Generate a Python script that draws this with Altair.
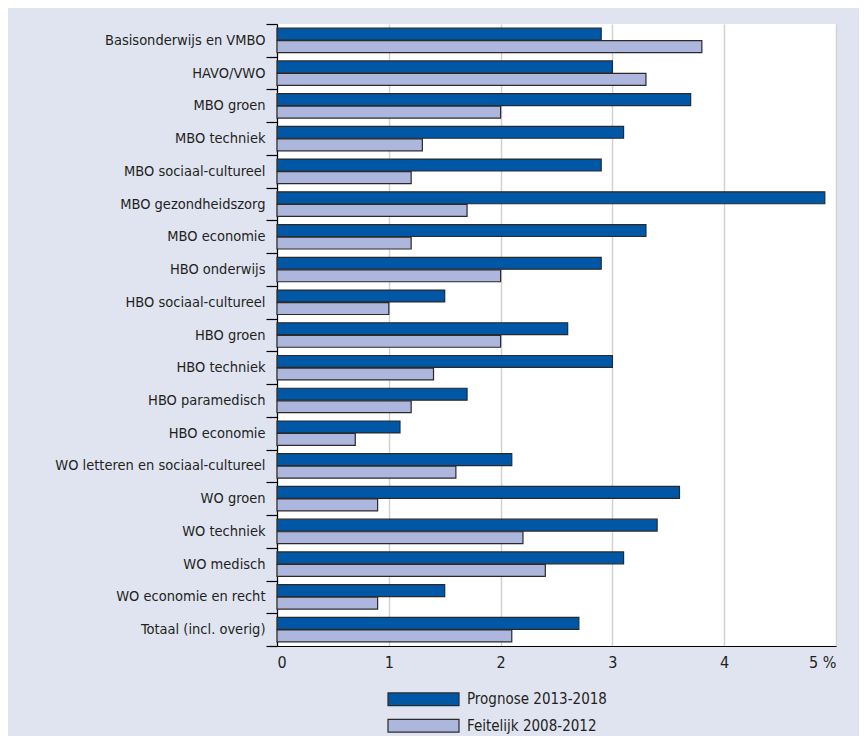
import altair as alt
import pandas as pd

categories = [
    "Basisonderwijs en VMBO", "HAVO/VWO", "MBO groen", "MBO techniek",
    "MBO sociaal-cultureel", "MBO gezondheidszorg", "MBO economie",
    "HBO onderwijs", "HBO sociaal-cultureel", "HBO groen", "HBO techniek",
    "HBO paramedisch", "HBO economie", "WO letteren en sociaal-cultureel",
    "WO groen", "WO techniek", "WO medisch", "WO economie en recht",
    "Totaal (incl. overig)",
]
series_names = ["Prognose 2013-2018", "Feitelijk 2008-2012"]
prognose = [2.9, 3.0, 3.7, 3.1, 2.9, 4.9, 3.3, 2.9, 1.5, 2.6, 3.0, 1.7, 1.1,
            2.1, 3.6, 3.4, 3.1, 1.5, 2.7]
feitelijk = [3.8, 3.3, 2.0, 1.3, 1.2, 1.7, 1.2, 2.0, 1.0, 2.0, 1.4, 1.2, 0.7,
             1.6, 0.9, 2.2, 2.4, 0.9, 2.1]
x_ticks = [0, 1, 2, 3, 4, 5]

rows = []
for c, p, f in zip(categories, prognose, feitelijk):
    rows.append({"category": c, "series": series_names[0], "value": p})
    rows.append({"category": c, "series": series_names[1], "value": f})
df = pd.DataFrame(rows)
legend_df = pd.DataFrame({"series": series_names, "row": [0, 1]})

FONT = "DejaVu Sans Condensed, sans-serif"
TXT = "#231f20"
color_scale = alt.Scale(domain=series_names, range=["#0057a6", "#adb7dd"])

bars = alt.Chart(df).mark_bar(stroke="#2a2a2a", strokeWidth=1.2).encode(
    y=alt.Y("category:N", sort=categories,
            scale=alt.Scale(paddingInner=0, paddingOuter=0),
            axis=alt.Axis(title=None, tickBand="extent", tickSize=11,
                          tickColor="#000", tickWidth=1.2,
                          domainColor="#000", domainWidth=1.2,
                          labelPadding=1, labelFont=FONT, labelFontSize=14.5,
                          labelColor=TXT, grid=False, labelLimit=400)),
    yOffset=alt.YOffset("series:N", sort=series_names,
                        scale=alt.Scale(paddingInner=0.05, paddingOuter=0.33)),
    x=alt.X("value:Q", scale=alt.Scale(domain=[0, 5], nice=False),
            axis=alt.Axis(title=None, values=x_ticks, ticks=False, tickSize=0,
                          labelPadding=8, labelFont=FONT, labelFontSize=16,
                          labelColor=TXT, domainColor="#000", domainWidth=1.2,
                          gridColor="#d2d2d2", gridWidth=1.5,
                          labelExpr="datum.value == 5 ? '5 %' : datum.label")),
    color=alt.Color("series:N", scale=color_scale, legend=None),
)

leg_y = alt.Y("row:Q", scale=alt.Scale(domain=[0, 1], range=[675.3, 701.7],
                                       nice=False, zero=False), axis=None)

leg_sym = alt.Chart(legend_df).mark_point(
    shape="M-1,-0.18H1V0.18H-1Z", size=5041, filled=True, opacity=1,
    stroke="#2a2a2a", strokeWidth=1.2,
).encode(
    x=alt.value(146.5),
    y=leg_y,
    fill=alt.Color("series:N", scale=color_scale, legend=None),
)

leg_txt = alt.Chart(legend_df).mark_text(
    align="left", baseline="middle", font=FONT, fontSize=15, color=TXT
).encode(
    x=alt.value(190),
    y=leg_y,
    text="series:N",
)

chart = alt.layer(bars, leg_sym, leg_txt).resolve_scale(y="independent").properties(
    width=559, height=622,
    background="#e0e4f1",
    padding={"left": 269, "top": 16, "right": 23, "bottom": 90},
    autosize=alt.AutoSizeParams(type="none"),
).configure_view(fill="white", stroke=None)

chart.save("out.html", embed_options={"renderer": "svg", "actions": False})
